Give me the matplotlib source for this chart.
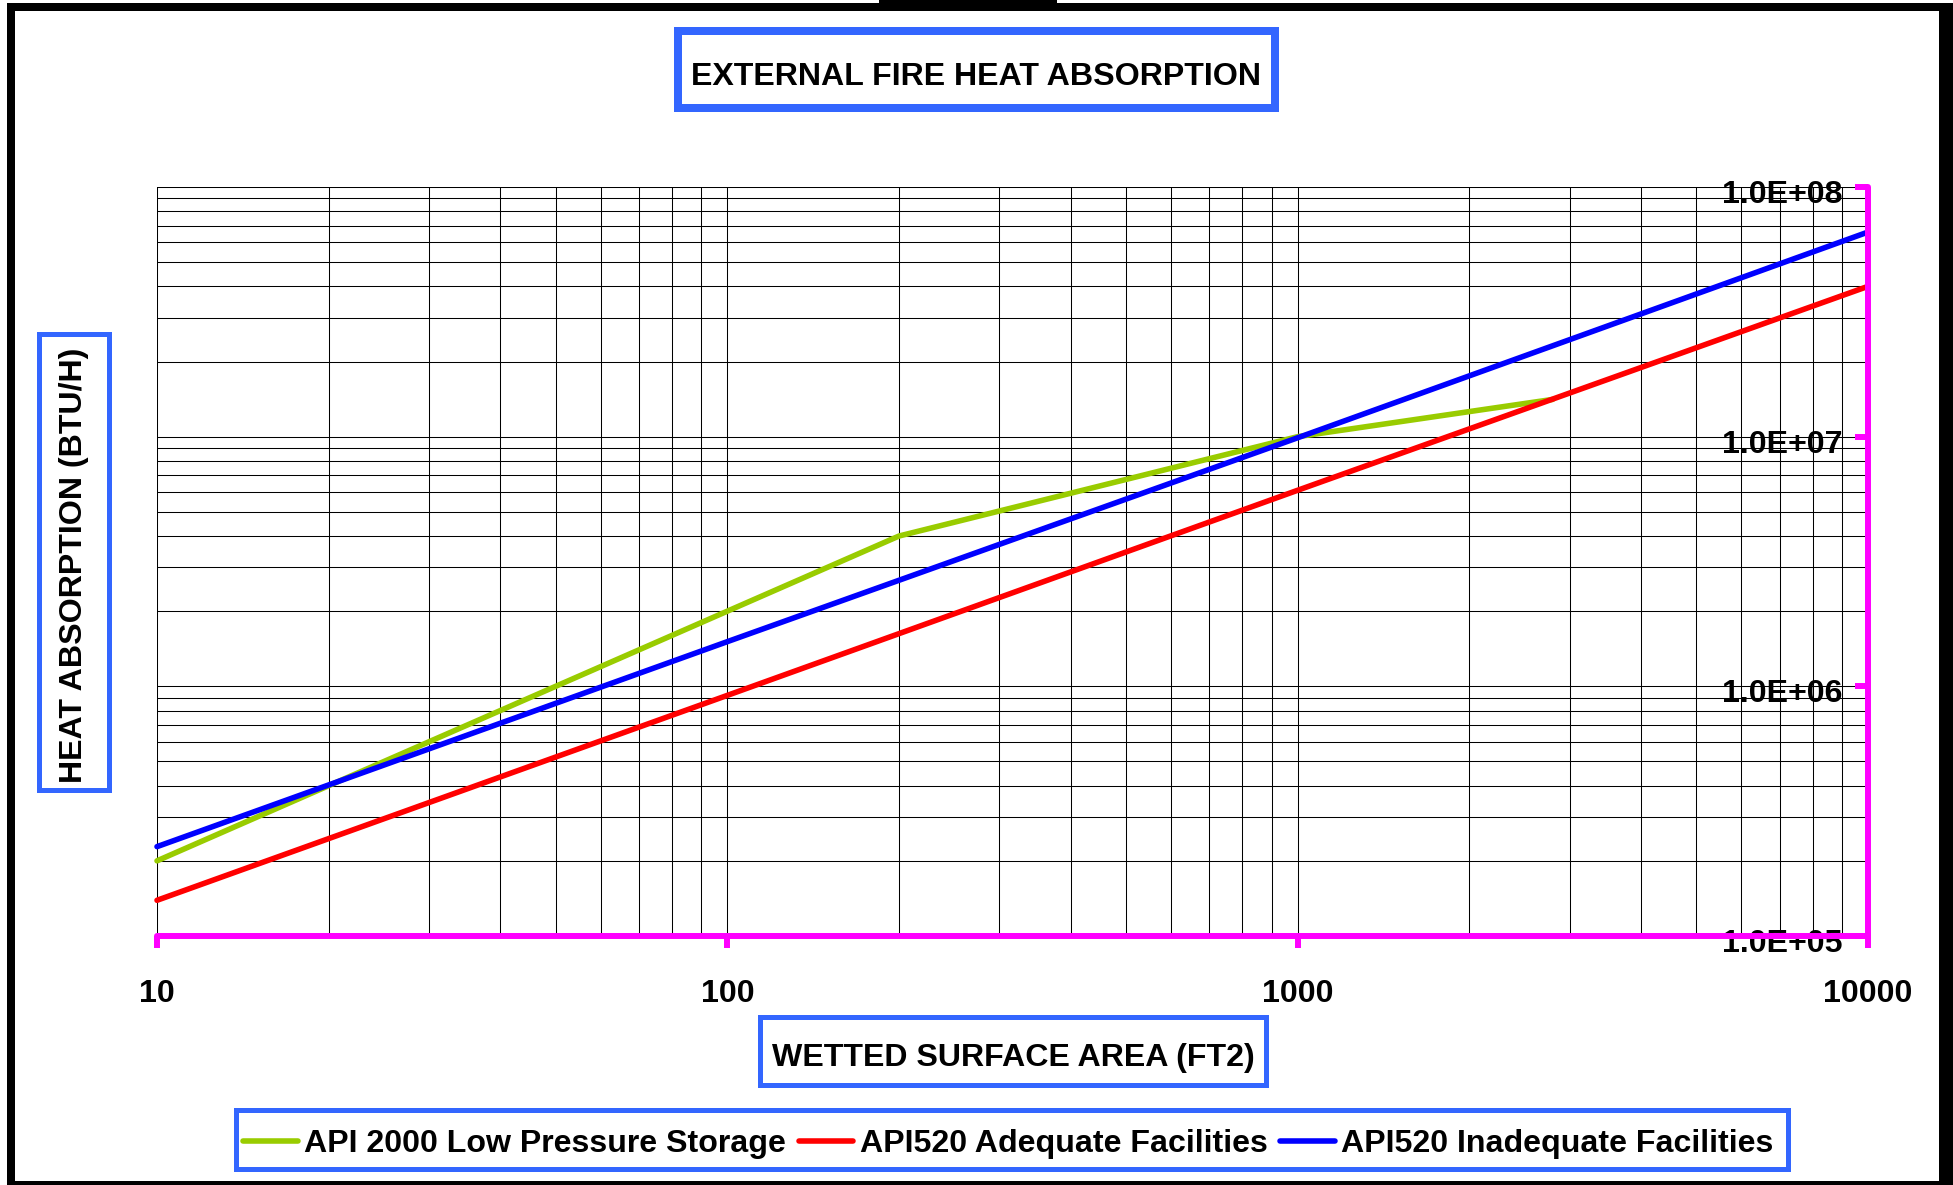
import numpy as np
import matplotlib.pyplot as plt
import matplotlib.transforms as mtransforms
from matplotlib.patches import Rectangle
from matplotlib.ticker import NullFormatter

plt.rcParams['font.family'] = ['Liberation Sans', 'DejaVu Sans']
plt.rcParams['font.weight'] = 'bold'

# data
area_api2000 = [10, 200, 1000, 2800]
heat_api2000 = [2.0e5, 4.0e6, 1.0e7, 1.41e7]
area_api520 = [10, 100, 1000, 10000]
heat_adequate = [1.39e5, 9.2e5, 6.1e6, 4.0e7]
heat_inadequate = [2.28e5, 1.51e6, 9.9e6, 6.6e7]
series_names = ['API 2000 Low Pressure Storage', 'API520 Adequate Facilities',
                'API520 Inadequate Facilities']
xtick_vals = [10, 100, 1000, 10000]
xtick_text = ['10', '100', '1000', '10000']
ytick_vals = [1e5, 1e6, 1e7, 1e8]
ytick_text = ['1.0E+05', '1.0E+06', '1.0E+07', '1.0E+08']

W, H = 1953, 1185
FS = 23.1
MAG = '#ff00ff'
BOX = '#3366ff'

def fx(x):
    return x / W

def fy(y):
    return 1 - y / H

fig = plt.figure(figsize=(W / 100, H / 100), dpi=100)

def box(x0, y0, x1, y1, lw_px, ec=BOX, fill='white'):
    # x0..x1 / y0..y1 are outer pixel edges (y from top)
    h = lw_px / 2
    r = Rectangle((fx(x0 + h), fy(y1 - h)), (x1 - x0 - lw_px) / W, (y1 - y0 - lw_px) / H,
                  transform=fig.transFigure, facecolor=fill, edgecolor=ec,
                  linewidth=lw_px * 0.72, zorder=1)
    fig.add_artist(r)

def solid(x0, y0, x1, y1):
    r = Rectangle((fx(x0), fy(y1)), (x1 - x0) / W, (y1 - y0) / H,
                  transform=fig.transFigure, facecolor='black', edgecolor='none', zorder=5)
    fig.add_artist(r)

# outer black frame
solid(7, 3, W, 11)
solid(7, 3, 15, H)
solid(1939, 3, W, H)
solid(7, 1181, W, H)
solid(879, 0, 1057, 11)

ax = fig.add_axes([157 / W, 1 - 936 / H, (1868 - 157) / W, (936 - 187) / H])
ax.set_xscale('log')
ax.set_yscale('log')

l1, = ax.plot(area_api2000, heat_api2000, color='#99cc00', lw=4.0,
              solid_capstyle='round', solid_joinstyle='round', clip_on=False, zorder=3)
l2, = ax.plot(area_api520, heat_adequate, color='#ff0000', lw=4.0,
              solid_capstyle='round', clip_on=False, zorder=3)
l3, = ax.plot(area_api520, heat_inadequate, color='#0000ff', lw=4.0,
              solid_capstyle='round', clip_on=False, zorder=3)

ax.set_xlim(10, 10000)
ax.set_ylim(1e5, 1e8)
ax.grid(which='both', color='black', lw=0.75)

for s in ['top', 'left']:
    ax.spines[s].set_visible(False)
for s in ['bottom', 'right']:
    ax.spines[s].set_color(MAG)
    ax.spines[s].set_linewidth(4.3)
    ax.spines[s].set_capstyle('round')
    ax.spines[s].set_zorder(4)

ax.xaxis.tick_bottom()
ax.yaxis.tick_right()
ax.set_xticks(xtick_vals, labels=xtick_text)
ax.set_yticks(ytick_vals, labels=ytick_text)
ax.xaxis.set_minor_formatter(NullFormatter())
ax.yaxis.set_minor_formatter(NullFormatter())
ax.tick_params(which='minor', length=0)
ax.tick_params(axis='x', which='major', direction='out', length=8.6, width=4.3,
               color=MAG, pad=22.3, labelsize=FS)
ax.tick_params(axis='y', which='major', direction='in', length=9.4, width=4.3,
               color=MAG, pad=-18.7, labelsize=FS)
shift = mtransforms.ScaledTranslation(0, -0.16, fig.dpi_scale_trans)
for t in ax.yaxis.get_major_ticks():
    t.label2.set_horizontalalignment('right')
    t.label2.set_verticalalignment('baseline')
    t.label2.set_transform(t.label2.get_transform() + shift)
    t.label2.set_zorder(6)

# title and axis label boxes
box(674, 27, 1279, 112, 8)
fig.text(fx(976), fy(85), 'EXTERNAL FIRE HEAT ABSORPTION', ha='center', va='baseline',
         fontsize=FS, zorder=2)
box(36, 331, 111, 792, 5)
fig.text(fx(82), fy(565), 'HEAT ABSORPTION (BTU/H)', rotation=90, rotation_mode='anchor',
         ha='center', va='baseline', fontsize=FS, zorder=2)
box(757, 1014, 1268, 1087, 5)
fig.text(fx(1013), fy(1066), 'WETTED SURFACE AREA (FT2)', ha='center', va='baseline',
         fontsize=FS, zorder=2)

# legend
box(233, 1107, 1790, 1171, 5)
leg = fig.legend([l1, l2, l3], series_names, loc='center left',
                 bbox_to_anchor=(fx(243), fy(1144)), ncol=3, frameon=False,
                 fontsize=FS, handlelength=1.7, handletextpad=0.2, columnspacing=0.4,
                 borderpad=0, borderaxespad=0)
leg.set_zorder(3)

plt.savefig('out.png', dpi=100)
